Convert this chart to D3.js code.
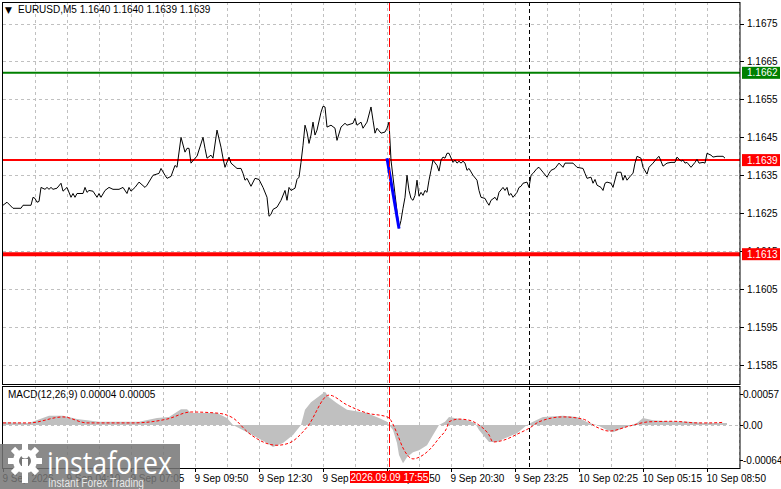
<!DOCTYPE html>
<html><head><meta charset="utf-8">
<script src="https://cdn.jsdelivr.net/npm/d3@7"></script>
<style>body{margin:0;background:#fff}svg{display:block;font-family:"Liberation Sans",Arial,sans-serif}</style>
</head><body><svg id="c" width="781" height="489"></svg>
<script>
// ---------- DATA ----------
const symbolTitle = "EURUSD,M5  1.1640 1.1640 1.1639 1.1639";
const macdTitle = "MACD(12,26,9) 0.00004 0.00005";
const priceTicks = [1.1585,1.1595,1.1605,1.1615,1.1625,1.1635,1.1645,1.1655,1.1665,1.1675];
const levelPrices = [1.1662, 1.1639, 1.16142];
const levelLabels = ["1.1662","1.1639","1.1613"];
const levelColors = ["#008000","#ff0000","#ff0000"];
const levelWidths = [2, 2, 4];
const timeTickBars = [0,32,64,96,128,160,192,224,256,288,320,352];
const timeTickLabels = ["9 Sep 2026","9 Sep 04:10","9 Sep 07:05","9 Sep 09:50","9 Sep 12:30","9 Sep 15:10","9 Sep 17:50","9 Sep 20:30","9 Sep 23:25","10 Sep 02:25","10 Sep 05:15","10 Sep 08:50"];
const cursorBar = 193, cursorLabel = "2026.09.09 17:55";
const daySeparatorBar = 263;
const macdTicks = [0.00057, 0, -0.00064];
const macdTickLabels = ["0.00057","0.00","-0.00064"];
const blueBars = [192, 198];
const bluePrices = [1.16395, 1.16210];

const closeBars = [0,2,5,9,10,14,15,16,17,18,19,21,22,23,24,25,27,29,30,32,34,35,36,37,40,41,42,43,45,47,48,49,51,53,55,58,60,62,63,64,66,68,71,72,75,78,79,81,82,84,86,87,89,91,92,93,94,96,97,
100,101,102,104,105,107,109,110,111,113,114,117,119,120,121,122,124,126,128,130,132,133,134,135,137,139,141,142,143,144,146,147,148,149,150,151,152,153,154,155,156,157,159,160,161,162,164,166,167,169,171,172,175,176,177,179,180,182,184,185,186,187,189,191,192,193,194,196,198,
199,200,201,202,203,204,205,206,207,208,209,210,211,212,213,214,215,217,218,219,220,221,222,223,225,226,227,228,229,230,231,232,233,235,237,238,239,241,242,243,244,246,247,248,250,251,252,253,254,255,257,258,259,260,262,263,264,265,267,268,270,272,273,274,276,278,280,281,285,
287,290,291,292,294,295,296,297,299,300,301,302,304,305,307,309,310,311,312,314,315,316,317,319,320,322,323,325,327,328,330,332,334,336,337,339,340,341,342,344,346,347,348,350,351,352,354,355,357,360,361];
const closeVals = [1.16271,1.16279,1.16263,1.16263,1.16271,1.16271,1.16292,1.16289,1.16279,1.16281,1.16318,1.16313,1.16318,1.16313,1.16318,1.16313,1.16316,1.16329,1.16308,1.16318,1.16292,1.16302,1.16292,1.16302,1.16302,1.16318,1.16305,1.16310,1.16308,1.16292,1.16302,1.16292,1.16310,1.16318,1.16313,1.16313,1.16318,1.16302,1.16318,1.16308,1.16318,1.16332,1.16318,1.16324,1.16350,1.16355,1.16368,1.16350,1.16342,1.16347,1.16376,1.16371,1.16450,1.16411,1.16421,1.16421,1.16382,1.16395,1.16400,
1.16450,1.16421,1.16395,1.16403,1.16395,1.16469,1.16424,1.16395,1.16371,1.16398,1.16382,1.16368,1.16368,1.16355,1.16337,1.16342,1.16321,1.16342,1.16339,1.16318,1.16292,1.16242,1.16247,1.16260,1.16266,1.16284,1.16310,1.16284,1.16318,1.16310,1.16316,1.16339,1.16345,1.16384,1.16429,1.16482,1.16464,1.16434,1.16456,1.16490,1.16456,1.16469,1.16516,1.16532,1.16530,1.16477,1.16482,1.16474,1.16442,1.16477,1.16487,1.16482,1.16487,1.16500,1.16482,1.16490,1.16474,1.16490,1.16530,1.16495,1.16461,1.16474,1.16461,1.16464,1.16474,1.16490,1.16390,1.16300,1.16210,
1.16231,1.16263,1.16292,1.16350,1.16310,1.16289,1.16284,1.16297,1.16337,1.16295,1.16305,1.16297,1.16310,1.16305,1.16337,1.16363,1.16390,1.16376,1.16361,1.16390,1.16398,1.16395,1.16408,1.16408,1.16384,1.16390,1.16382,1.16387,1.16382,1.16387,1.16382,1.16363,1.16368,1.16350,1.16337,1.16310,1.16292,1.16289,1.16279,1.16271,1.16284,1.16292,1.16284,1.16305,1.16318,1.16310,1.16318,1.16297,1.16302,1.16292,1.16305,1.16318,1.16321,1.16329,1.16332,1.16318,1.16350,1.16355,1.16368,1.16371,1.16358,1.16345,1.16355,1.16363,1.16368,1.16382,1.16371,1.16382,1.16382,
1.16371,1.16368,1.16355,1.16342,1.16345,1.16329,1.16339,1.16324,1.16318,1.16310,1.16329,1.16332,1.16329,1.16318,1.16358,1.16358,1.16337,1.16350,1.16337,1.16350,1.16355,1.16382,1.16400,1.16395,1.16371,1.16353,1.16371,1.16382,1.16395,1.16400,1.16374,1.16382,1.16384,1.16384,1.16398,1.16387,1.16390,1.16382,1.16384,1.16371,1.16384,1.16392,1.16382,1.16384,1.16382,1.16408,1.16403,1.16398,1.16400,1.16400,1.16395];

const histBars = [0,13,23,30,37,48,68,77,83,89,92,94,102,107,112,115,123,132,135,140,145,149,151,154,161,163,167,172,182,188,192,193,195,197,198,200,202,205,208,212,215,218,221,223,232,236,238,243,247,251,257,262,265,270,280,287,293,297,302,305,310,317,320,325,332,343,350,357,362];
const histVals = [0.00005,0.00004,0.00017,0.00017,0.00011,0.00006,0.00006,0.00013,0.00015,0.00029,0.00029,0.00022,0.00022,0.00022,0.00013,0,-0.00015,-0.00033,-0.00040,-0.00033,-0.00018,0,0.00028,0.00042,0.00061,0.00051,0.00040,0.00028,0.00022,0.00013,0.00006,0,-0.00009,-0.00033,-0.00055,-0.00070,-0.00059,-0.00050,-0.00046,-0.00037,-0.00018,0,0.00006,0.00015,0.00009,0.00004,-0.00009,-0.00031,-0.00031,-0.00024,-0.00015,0,0.00006,0.00015,0.00017,0.00015,0.00004,0,-0.00009,-0.00013,-0.00006,0.00004,0.00013,0.00009,0.00007,0.00006,0.00004,0.00004,0.00004];
const signalBars = [0,13,30,42,65,82,94,107,115,123,137,143,152,163,172,182,192,193,197,200,205,208,213,218,222,223,228,233,238,243,245,250,258,263,268,280,290,297,303,313,323,335,347,353,360];
const signalVals = [0.00004,0.00004,0.00015,0.00004,0.00004,0.00011,0.00024,0.00022,0.00013,-0.00015,-0.00037,-0.00033,-0.00004,0.00055,0.00037,0.00022,0.00015,0.00013,-0.00015,-0.00042,-0.00062,-0.00059,-0.00046,-0.00024,-0.00004,0.00006,0.00011,0.00009,0,-0.00018,-0.00031,-0.00028,-0.00015,-0.00006,0.00006,0.00015,0.00011,-0.00004,-0.00011,-0.00002,0.00006,0.00007,0.00004,0.00004,0.00005];

// ---------- LAYOUT ----------
const L = 3, R = 740, mainTop = 2, mainBot = 384, macdTop = 386, macdBot = 468;
const svg = d3.select("#c");
const x = d3.scaleLinear().domain([0, 368.5]).range([L, R]);
const y = d3.scaleLinear().domain([1.1585, 1.1675]).range([365, 23.5]);
const ym = d3.scaleLinear().domain([-0.00064, 0.00057]).range([460, 394]);
const gridCol = "#c0c0c0";

const defs = svg.append("defs");
defs.append("clipPath").attr("id","cm").append("rect").attr("x",L).attr("y",mainTop+1).attr("width",R-L).attr("height",mainBot-mainTop-1);
defs.append("clipPath").attr("id","cd").append("rect").attr("x",L).attr("y",macdTop+1).attr("width",R-L).attr("height",macdBot-macdTop-1);

// grids
const gridBars = d3.range(16, 369, 16);
[[mainTop, mainBot],[macdTop, macdBot]].forEach(([t,b]) => {
  svg.append("g").selectAll("line").data(gridBars).join("line")
    .attr("x1", d=>Math.round(x(d))+0.5).attr("x2", d=>Math.round(x(d))+0.5).attr("y1", t).attr("y2", b)
    .attr("stroke", gridCol).attr("stroke-dasharray","3,3");
});
svg.append("g").selectAll("line").data(priceTicks).join("line")
  .attr("x1", L).attr("x2", R).attr("y1", d=>Math.round(y(d))+0.5).attr("y2", d=>Math.round(y(d))+0.5)
  .attr("stroke", gridCol).attr("stroke-dasharray","3,3");
svg.append("line").attr("x1",L).attr("x2",R).attr("y1",Math.round(ym(0))+0.5).attr("y2",Math.round(ym(0))+0.5)
  .attr("stroke", gridCol).attr("stroke-dasharray","3,3");

// MACD histogram & signal
const gm = svg.append("g").attr("clip-path","url(#cd)");
const hist = histBars.map((b,i)=>({b, v:histVals[i]}));
gm.append("path").datum(hist)
  .attr("d", d3.area().x(d=>x(d.b)).y0(ym(0)).y1(d=>ym(d.v)))
  .attr("fill", "#c0c0c0");
const sig = signalBars.map((b,i)=>({b, v:signalVals[i]}));
gm.append("path").datum(sig)
  .attr("d", d3.line().x(d=>x(d.b)).y(d=>ym(d.v)).curve(d3.curveMonotoneX))
  .attr("fill","none").attr("stroke","#ff0000").attr("stroke-width",1).attr("stroke-dasharray","3,2");

// separators
[[mainTop,mainBot],[macdTop,macdBot]].forEach(([t,b]) => {
  svg.append("line").attr("x1",Math.round(x(daySeparatorBar))+0.5).attr("x2",Math.round(x(daySeparatorBar))+0.5)
    .attr("y1",t).attr("y2",b).attr("stroke","#000").attr("stroke-dasharray","4,3");
});

// price line
const g = svg.append("g").attr("clip-path","url(#cm)");
const pts = closeBars.map((b,i)=>({b, v:closeVals[i]}));
levelPrices.forEach((p,i)=>{
  g.append("line").attr("x1",L).attr("x2",R).attr("y1",y(p)).attr("y2",y(p))
    .attr("stroke",levelColors[i]).attr("stroke-width",levelWidths[i]);
});
g.append("path").datum(pts)
  .attr("d", d3.line().x(d=>x(d.b)).y(d=>y(d.v)))
  .attr("fill","none").attr("stroke","#000").attr("stroke-width",1);
g.append("path").datum(blueBars.map((b,i)=>({b, v:bluePrices[i]})))
  .attr("d", d3.line().x(d=>x(d.b)).y(d=>y(d.v)))
  .attr("fill","none").attr("stroke","#0000ff").attr("stroke-width",3);

// cursor red dashed vertical
svg.append("line").attr("x1",Math.round(x(cursorBar))+0.5).attr("x2",Math.round(x(cursorBar))+0.5)
  .attr("y1",mainTop).attr("y2",macdBot+3).attr("stroke","#ff0000").attr("stroke-dasharray","9,3");

// frames
svg.append("rect").attr("x",2.5).attr("y",mainTop+0.5).attr("width",R-2.5).attr("height",mainBot-mainTop).attr("fill","none").attr("stroke","#000");
svg.append("rect").attr("x",2.5).attr("y",macdTop+0.5).attr("width",R-2.5).attr("height",macdBot-macdTop).attr("fill","none").attr("stroke","#000");

// right price axis
const ax = svg.append("g").attr("font-size","10px");
priceTicks.forEach(p=>{
  ax.append("line").attr("x1",R).attr("x2",R+4).attr("y1",Math.round(y(p))+0.5).attr("y2",Math.round(y(p))+0.5).attr("stroke","#000");
  ax.append("text").attr("x",R+7).attr("y",y(p)).attr("dy","0.35em").text(d3.format(".4f")(p));
});
levelPrices.forEach((p,i)=>{
  ax.append("rect").attr("x",R+2).attr("y",y(p)-6).attr("width",38).attr("height",12).attr("fill",levelColors[i]);
  ax.append("text").attr("x",R+7).attr("y",y(p)).attr("dy","0.35em").attr("fill","#fff").text(levelLabels[i]);
});
macdTicks.forEach((v,i)=>{
  ax.append("line").attr("x1",R).attr("x2",R+3).attr("y1",Math.round(ym(v))+0.5).attr("y2",Math.round(ym(v))+0.5).attr("stroke","#000");
  ax.append("text").attr("x",R+3).attr("y",ym(v)).attr("dy","0.35em").text(macdTickLabels[i]);
});

// time axis
const tx = svg.append("g").attr("font-size","10px");
timeTickBars.forEach((b,i)=>{
  const xx = Math.round(x(b))+0.5;
  tx.append("line").attr("x1",xx).attr("x2",xx).attr("y1",macdBot).attr("y2",macdBot+4).attr("stroke","#000");
  tx.append("text").attr("x",xx-1).attr("y",482).text(timeTickLabels[i]);
});
const cx = x(cursorBar);
tx.append("rect").attr("x",cx-39).attr("y",471).attr("width",79).attr("height",12).attr("fill","#ff0000");
tx.append("text").attr("x",cx+0.5).attr("y",481).attr("text-anchor","middle").attr("fill","#fff").text(cursorLabel);

// titles
svg.append("text").attr("x",5).attr("y",13).attr("font-size","9px").attr("font-family","DejaVu Sans").text("\u25BC");
svg.append("text").attr("x",18).attr("y",13).attr("font-size","10px").text(symbolTitle);
svg.append("text").attr("x",8).attr("y",398).attr("font-size","10px").text(macdTitle);

// watermark
const w = svg.append("g");
w.append("rect").attr("x",0).attr("y",444).attr("width",180).attr("height",45).attr("fill","#767676").attr("opacity",0.85);
const gc = w.append("g").attr("transform","translate(25,461)").attr("fill","#fff");
d3.range(8).forEach(k=>{
  gc.append("rect").attr("x",-3).attr("y",-17).attr("width",6).attr("height",7).attr("transform",`rotate(${k*45})`);
});
gc.append("circle").attr("r",12);
gc.append("circle").attr("r",6).attr("fill","#767676");
gc.append("rect").attr("x",-3).attr("y",-2).attr("width",6).attr("height",24);
gc.append("circle").attr("cy",-6).attr("r",3.5);
w.append("text").attr("x",47).attr("y",474).attr("font-size","31px").attr("font-family","Open Sans, Liberation Sans").attr("fill","#fff")
  .attr("textLength",125).attr("lengthAdjust","spacingAndGlyphs").text("instaforex");
w.append("text").attr("x",48).attr("y",487).attr("font-size","12px").attr("fill","#e8e8e8")
  .attr("textLength",96).attr("lengthAdjust","spacingAndGlyphs").text("Instant Forex Trading");
</script></body></html>
